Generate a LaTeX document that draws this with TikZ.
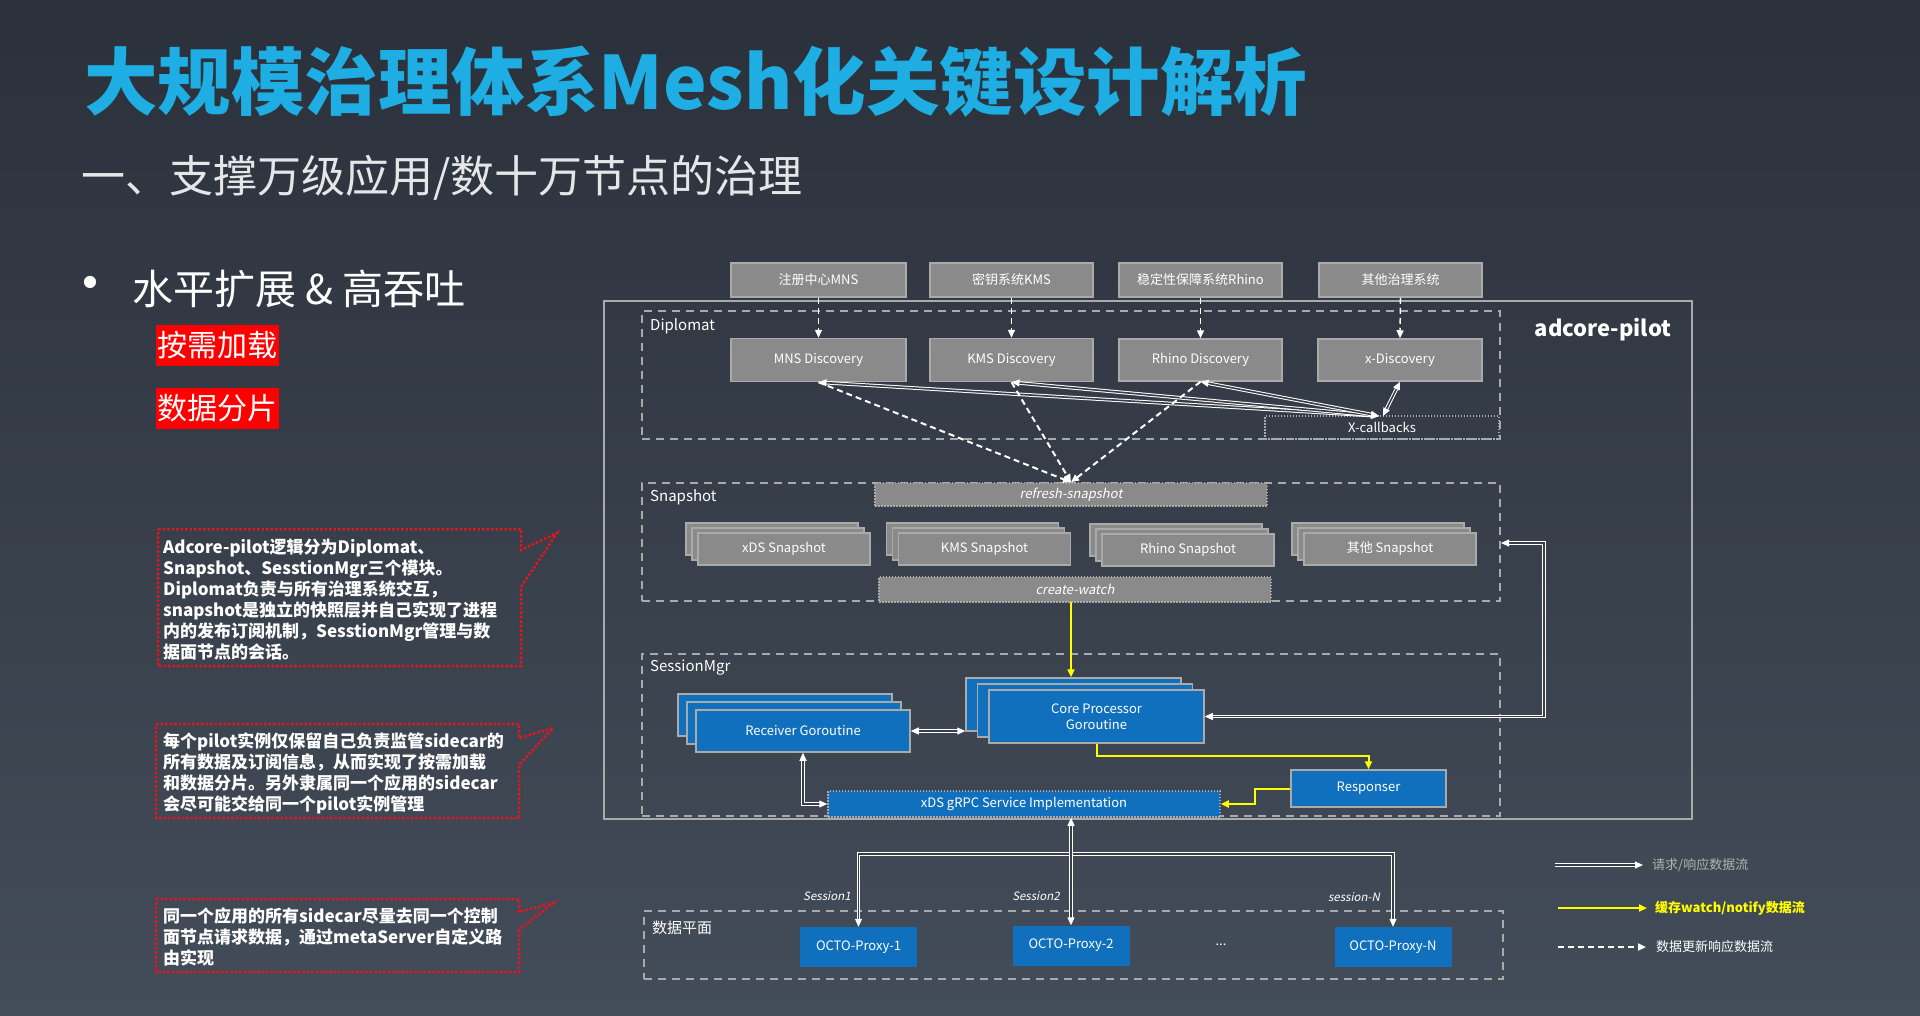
\documentclass[tikz,border=0pt]{standalone}
\usepackage{fontspec}
\setmainfont{Noto Sans CJK SC}
\newfontfamily\slantFont[FakeSlant=0.2]{Noto Sans CJK SC}
\usetikzlibrary{calc,backgrounds,arrows.meta}

\definecolor{bgTop}{RGB}{43,49,59}
\definecolor{bgBottom}{RGB}{67,76,89}
\definecolor{bgMid}{RGB}{55,62,74}
\definecolor{titleBlue}{RGB}{30,174,228}
\definecolor{boxGray}{RGB}{138,138,138}
\definecolor{boxEdge}{RGB}{170,170,170}
\definecolor{coreBlue}{RGB}{16,112,189}
\definecolor{watchYellow}{RGB}{255,255,0}
\definecolor{noteRed}{RGB}{232,20,30}
\definecolor{legendGray}{RGB}{178,178,178}

\begin{document}
\begin{tikzpicture}[x=1pt,y=-1pt,>={Triangle[length=8pt,width=7pt]}]

  \tikzstyle{sysBox} = [draw=boxEdge, line width=1.5pt, fill=boxGray, text=white, inner sep=0pt, font={\fontsize{13}{15}\selectfont}]
  \tikzstyle{blueBox} = [draw=boxEdge, line width=1.5pt, fill=coreBlue, text=white, inner sep=0pt, align=center, font={\fontsize{13}{16}\selectfont}]
  \tikzstyle{proxyBox} = [fill=coreBlue, text=white, inner sep=0pt, minimum width=117, minimum height=40, font={\fontsize{13}{15}\selectfont}]
  \tikzstyle{dottedBar} = [draw=boxEdge, line width=1.5pt, dash pattern=on 1.5pt off 1.5pt, inner sep=0pt, text=white, font={\fontsize{13}{15}\selectfont}]
  \tikzstyle{groupBox} = [draw=boxEdge, line width=2pt, dash pattern=on 8pt off 6pt, inner sep=0pt]
  \tikzstyle{groupLabel} = [anchor=west, text=white, inner sep=0pt, font={\fontsize{15}{17}\selectfont}]
  \tikzstyle{sessionLabel} = [text=white, inner sep=0pt, font={\slantFont\fontsize{11.5}{13}\selectfont}]
  \tikzstyle{reqEdge} = [draw=white, double=bgMid, double distance=1.6pt, line width=1pt]
  \tikzstyle{watchEdge} = [watchYellow, line width=2pt, ->]
  \tikzstyle{updateEdge} = [white, line width=2pt, dash pattern=on 6pt off 4pt, ->]
  \tikzstyle{noteLine} = [noteRed, line width=2.5pt, dash pattern=on 2.5pt off 2pt]
  \tikzstyle{noteText} = [anchor=north west, text=white, inner sep=0pt, align=left, font={\bfseries\fontsize{17}{21}\selectfont}]
  \tikzstyle{legendText} = [anchor=west, inner sep=0pt, font={\fontsize{13}{15}\selectfont}]

  \shade[top color=bgTop, bottom color=bgBottom] (0,0) rectangle (1920,1015);
  \useasboundingbox (0,0) rectangle (1920,1015);

  % Slide heading and bullets
  \node[anchor=west, inner sep=0pt, text=titleBlue, font={\bfseries\fontsize{73.5}{80}\selectfont}] (title) at (84,82) {大规模治理体系Mesh化关键设计解析};
  \node[anchor=west, inner sep=0pt, text=white!88!bgTop, font={\fontsize{44}{48}\selectfont}] (subtitle) at (81,178) {一、支撑万级应用/数十万节点的治理};
  \node[inner sep=0pt, text=white, font={\fontsize{58}{60}\selectfont}] (bullet) at (90,290) {•};
  \node[anchor=west, inner sep=0pt, text=white, font={\fontsize{41}{44}\selectfont}] (scaleOut) at (132,289) {水平扩展 \& 高吞吐};
  \node[fill=red, text=white, inner sep=0pt, minimum width=123, minimum height=41, font={\fontsize{30}{32}\selectfont}] (onDemand) at (217.5,345.5) {按需加载};
  \node[fill=red, text=white, inner sep=0pt, minimum width=123, minimum height=41, font={\fontsize{30}{32}\selectfont}] (sharding) at (217.5,408.5) {数据分片};

  % Callout notes
  \draw[noteLine] (158,529) -- (521,529) -- (521,550) -- (557,533) -- (521,587) -- (521,666) -- (158,666) -- cycle;
  \node[noteText] (noteModules) at (163,539) {Adcore-pilot逻辑分为Diplomat、\\Snapshot、SesstionMgr三个模块。\\Diplomat负责与所有治理系统交互，\\snapshot是独立的快照层并自己实现了进程\\内的发布订阅机制，SesstionMgr管理与数\\据面节点的会话。};
  \draw[noteLine] (156,724) -- (519,724) -- (519,738) -- (553,728) -- (519,765) -- (519,818) -- (156,818) -- cycle;
  \node[noteText] (noteShard) at (163,732) {每个pilot实例仅保留自己负责监管sidecar的\\所有数据及订阅信息，从而实现了按需加载\\和数据分片。另外隶属同一个应用的sidecar\\会尽可能交给同一个pilot实例管理};
  \draw[noteLine] (156,899) -- (519,899) -- (519,912) -- (553,903) -- (519,930) -- (519,972) -- (156,972) -- cycle;
  \node[noteText] (noteRoute) at (163,908) {同一个应用的所有sidecar尽量去同一个控制\\面节点请求数据，通过metaServer自定义路\\由实现};

  % Groups
  \node[draw=boxEdge, line width=2pt, minimum width=1088, minimum height=518, inner sep=0pt] (pilot) at (1148,560) {};
  \node[text=white, inner sep=0pt, font={\bfseries\fontsize{22}{26}\selectfont}] (pilotLabel) at (1603,330) {adcore-pilot};
  \node[groupBox, minimum width=858, minimum height=128] (diplomat) at (1071,375) {};
  \node[groupLabel] at (650,326) {Diplomat};
  \node[groupBox, minimum width=858, minimum height=118] (snapshotGroup) at (1071,542) {};
  \node[groupLabel] at (650,497) {Snapshot};
  \node[groupBox, minimum width=858, minimum height=162] (sessionMgr) at (1071,735) {};
  \node[groupLabel] at (650,668) {SessionMgr};
  \node[groupBox, minimum width=859, minimum height=68] (dataPlane) at (1073.5,945) {};
  \node[groupLabel] at (652,928) {数据平面};

  % Governance systems and discovery
  \node[sysBox, minimum width=175, minimum height=34] (mnsSys) at (818.5,280) {注册中心MNS};
  \node[sysBox, minimum width=163, minimum height=34] (kmsSys) at (1011.5,280) {密钥系统KMS};
  \node[sysBox, minimum width=163, minimum height=34] (rhinoSys) at (1200.5,280) {稳定性保障系统Rhino};
  \node[sysBox, minimum width=163, minimum height=34] (otherSys) at (1400.5,280) {其他治理系统};
  \node[sysBox, minimum width=175, minimum height=43] (mnsDisc) at (818.5,360) {MNS Discovery};
  \node[sysBox, minimum width=163, minimum height=43] (kmsDisc) at (1011.5,360) {KMS Discovery};
  \node[sysBox, minimum width=163, minimum height=42] (rhinoDisc) at (1200.5,360) {Rhino Discovery};
  \node[sysBox, minimum width=164, minimum height=42] (xDisc) at (1400,360) {x-Discovery};
  \node[dottedBar, minimum width=234, minimum height=23] (xCallbacks) at (1382,427.5) {X-callbacks};

  % Snapshot layer
  \node[dottedBar, fill=boxGray, minimum width=392, minimum height=23, font={\slantFont\fontsize{13}{15}\selectfont}] (refreshBar) at (1071,494.5) {refresh-snapshot};
  \node[sysBox, minimum width=172, minimum height=32] (xdsSnapC) at (772,539) {};
  \node[sysBox, minimum width=172, minimum height=32] (xdsSnapB) at (778,544) {};
  \node[sysBox, minimum width=172, minimum height=32] (xdsSnap) at (784,549) {xDS Snapshot};
  \node[sysBox, minimum width=172, minimum height=32] (kmsSnapC) at (972.5,539) {};
  \node[sysBox, minimum width=172, minimum height=32] (kmsSnapB) at (978.5,544) {};
  \node[sysBox, minimum width=172, minimum height=32] (kmsSnap) at (984.5,549) {KMS Snapshot};
  \node[sysBox, minimum width=172, minimum height=32] (rhinoSnapC) at (1176,540) {};
  \node[sysBox, minimum width=172, minimum height=32] (rhinoSnapB) at (1182,545) {};
  \node[sysBox, minimum width=172, minimum height=32] (rhinoSnap) at (1188,550) {Rhino Snapshot};
  \node[sysBox, minimum width=172, minimum height=32] (otherSnapC) at (1378,539) {};
  \node[sysBox, minimum width=172, minimum height=32] (otherSnapB) at (1384,544) {};
  \node[sysBox, minimum width=172, minimum height=32] (otherSnap) at (1390,549) {其他 Snapshot};
  \node[dottedBar, fill=boxGray, minimum width=392, minimum height=25, font={\slantFont\fontsize{13}{15}\selectfont}] (createWatch) at (1075,589.5) {create-watch};

  % Session manager
  \node[blueBox, minimum width=214, minimum height=42] (receiverC) at (785,715) {};
  \node[blueBox, minimum width=214, minimum height=42] (receiverB) at (794,723) {};
  \node[blueBox, minimum width=214, minimum height=42] (receiver) at (803,731) {Receiver Goroutine};
  \node[blueBox, minimum width=215, minimum height=53] (coreC) at (1073.5,704.5) {};
  \node[blueBox, minimum width=215, minimum height=53] (coreB) at (1085,710.5) {};
  \node[blueBox, minimum width=215, minimum height=53] (core) at (1096.5,716.5) {Core Processor\\Goroutine};
  \node[blueBox, minimum width=155, minimum height=37] (responser) at (1368.5,788.5) {Responser};
  \node[dottedBar, fill=coreBlue, minimum width=392, minimum height=26] (grpc) at (1024,804) {xDS gRPC Service Implementation};

  % Data plane proxies
  \node[proxyBox] (proxy1) at (858.5,947) {OCTO-Proxy-1};
  \node[proxyBox] (proxy2) at (1071,945.5) {OCTO-Proxy-2};
  \node[proxyBox] (proxyN) at (1393,947) {OCTO-Proxy-N};
  \node[text=white, inner sep=0pt, font={\fontsize{13}{15}\selectfont}] (proxyDots) at (1221,945) {...};
  \node[sessionLabel] (session1) at (827,896) {Session1};
  \node[sessionLabel] (session2) at (1036,896) {Session2};
  \node[sessionLabel] (sessionN) at (1354,897) {session-N};

  % Governance systems push into their discovery modules
  \draw[updateEdge, line width=1.5pt] (mnsSys.south) -- (mnsDisc.north);
  \draw[updateEdge, line width=1.5pt] (kmsSys.south) -- (kmsDisc.north);
  \draw[updateEdge, line width=1.5pt] (rhinoSys.south) -- (rhinoDisc.north);
  \draw[updateEdge, line width=1.5pt] (otherSys.south) -- (xDisc.north);

  % Discovery modules exchange with the callbacks
  \coordinate (callbackHub) at (1379,416);
  \draw[reqEdge, <->] (callbackHub) -- (mnsDisc.south);
  \draw[reqEdge, <->] (callbackHub) -- (kmsDisc.south);
  \draw[reqEdge, <->] (callbackHub) -- (rhinoDisc.south);
  \draw[reqEdge, <->] ($(callbackHub)+(4,0)$) -- (xDisc.south);

  % Discovery modules refresh the snapshots
  \draw[updateEdge] (mnsDisc.south) -- (refreshBar.north);
  \draw[updateEdge] (kmsDisc.south) -- (refreshBar.north);
  \draw[updateEdge] (rhinoDisc.south) -- (refreshBar.north);

  % Snapshots notify the core processor
  \coordinate (watchDrop) at (1071,602);
  \draw[watchEdge] (watchDrop) -- (watchDrop |- coreC.north);

  % Core processor reads the snapshots
  \coordinate (coreSnapshotA) at (1544,543);
  \draw[reqEdge, <->] (core.east) -| (coreSnapshotA) -- (coreSnapshotA -| snapshotGroup.east);

  % Receiver and core processor talk to each other
  \draw[reqEdge, <->] (receiver.east) -- (receiver.east -| coreC.west);

  % Receiver and gRPC service
  \draw[reqEdge, <->] (receiver.south) |- (grpc.west);

  % Core processor hands over to the responser, which answers through gRPC
  \coordinate (coreResponserA) at (1096.5,756);
  \draw[watchEdge] (core.south) -- (coreResponserA) -| (responser.north);
  \coordinate (responserGrpcA) at (1255,788.5);
  \draw[watchEdge] (responser.west) -- (responserGrpcA) |- (grpc.east);

  % Sessions to the proxies
  \coordinate (sessionRight) at (1393,854);
  \draw[reqEdge, <->] (proxy1.north) |- (sessionRight) -- (proxyN.north);
  \draw[reqEdge, <->] (grpc.south -| proxy2.north) -- (proxy2.north);

  % Legend
  \node[legendText, text=legendGray] (legendReq) at (1652,865) {请求/响应数据流};
  \node[legendText, text=watchYellow, font={\bfseries\fontsize{13}{15}\selectfont}] (legendWatch) at (1655,908) {缓存watch/notify数据流};
  \node[legendText, text=white] (legendUpdate) at (1656,947) {数据更新响应数据流};
  \coordinate (legendReqA) at (1555,865);
  \coordinate (legendWatchA) at (1558,908);
  \coordinate (legendUpdateA) at (1558,947);
  \draw[reqEdge, ->] (legendReqA) -- ([xshift=-9pt]legendReq.west);
  \draw[watchEdge] (legendWatchA) -- ([xshift=-8pt]legendWatch.west);
  \draw[updateEdge] (legendUpdateA) -- ([xshift=-10pt]legendUpdate.west);

\end{tikzpicture}
\end{document}
